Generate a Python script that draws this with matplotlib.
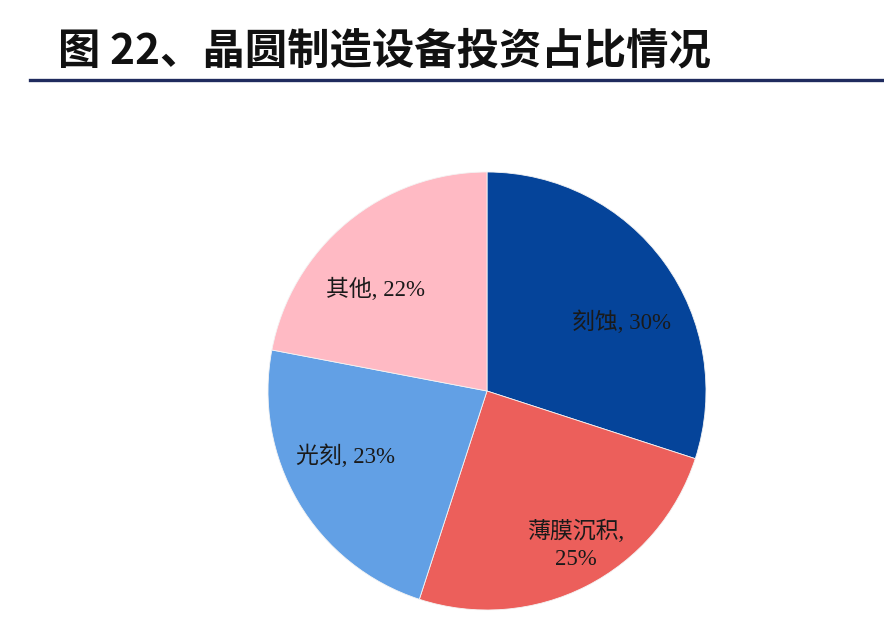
import numpy as np
import matplotlib.pyplot as plt
from matplotlib.lines import Line2D

# chart data
labels = ['刻蚀', '薄膜沉积', '光刻', '其他']
shares = [30, 25, 23, 22]
colors = ['#05449a', '#ec5f5b', '#62a0e5', '#ffbac4']
title = '图 22、晶圆制造设备投资占比情况'

# label placement (fraction of radius, angle shift in degrees) per wedge
label_dist = [0.69, 0.81, 0.71, 0.69]
label_shift = [-9, 3, -6, 8]
label_text = ['刻蚀, 30%', '薄膜沉积,\n25%', '光刻, 23%', '其他, 22%']

fig = plt.figure(figsize=(8.84, 6.19), dpi=100)

# title and rule under it
fig.text(58 / 884, 1 - 51 / 619, title, fontsize=30.5, fontweight='heavy',
         family=['Noto Sans CJK SC', 'DejaVu Sans'], color='#111111',
         va='center', ha='left')
fig.add_artist(Line2D([30 / 884, 1.0], [1 - 80 / 619, 1 - 80 / 619],
                      color='#1f2b5e', linewidth=2.4, transform=fig.transFigure))

ax = fig.add_axes([(487 - 219) / 884, (619 - 391 - 219) / 619, 438 / 884, 438 / 619])
wedges, _ = ax.pie(shares, colors=colors, startangle=90, counterclock=False,
                   wedgeprops=dict(edgecolor='#f4f4f4', linewidth=0.6))
ax.set_aspect('equal')
ax.set_xlim(-1, 1)
ax.set_ylim(-1, 1)

for w, txt, d, s in zip(wedges, label_text, label_dist, label_shift):
    ang = np.deg2rad((w.theta1 + w.theta2) / 2 + s)
    ax.text(d * np.cos(ang), d * np.sin(ang), txt, ha='center', va='center',
            fontsize=16.5, color='#1a1a1a', linespacing=1.4,
            family=['Liberation Serif', 'Noto Sans CJK SC'])

plt.savefig('out.png', dpi=100)
